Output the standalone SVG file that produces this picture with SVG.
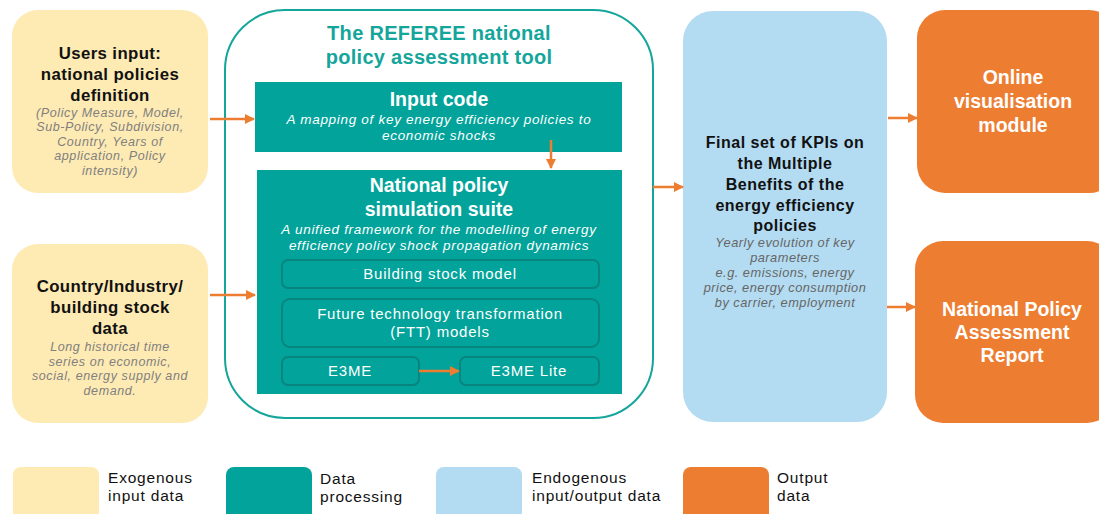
<svg xmlns="http://www.w3.org/2000/svg" width="1099" height="514" viewBox="0 0 1099 514">
<style>
text{font-family:"Liberation Sans",Arial,sans-serif;text-anchor:middle}
.yel{fill:#FEEAB3}
.teal{fill:#02A39A}
.blue{fill:#B3DBF1}
.org{fill:#ED7D31}
.hb{font-weight:700;fill:#111;font-size:16.8px;letter-spacing:0.4px}
.gi{font-style:italic;fill:#808080;font-size:12.5px;letter-spacing:0.6px}
.wb{font-weight:700;fill:#fff;font-size:19.5px}
.wi{font-style:italic;fill:#fff;font-size:13.5px;letter-spacing:0.7px}
.sub{fill:none;stroke:#08857E;stroke-width:2}
.wm{fill:#fff;font-size:15px;letter-spacing:0.8px}
.ob{font-weight:700;fill:#fff;font-size:19.5px}
.kb{font-weight:700;fill:#111;font-size:16px;letter-spacing:0.5px}
.bi{font-style:italic;fill:#666;font-size:12.8px;letter-spacing:0.5px}
.lg{fill:#111;font-size:15.5px;letter-spacing:0.8px;text-anchor:start}
.conn{stroke:#ED7D31;stroke-width:2.5;fill:none;marker-end:url(#ah)}
</style>
<defs>
<marker id="ah" viewBox="0 0 10 10" refX="9" refY="5" markerWidth="4" markerHeight="4" orient="auto" markerUnits="strokeWidth">
<path d="M0,0 L10,5 L0,10 z" fill="#ED7D31"/>
</marker>
</defs>
<rect width="1099" height="514" fill="#fff"/>

<g id="users-input">
<rect class="yel" x="12" y="10" width="196" height="183" rx="26"/>
<text class="hb" x="110" y="59">Users input:</text>
<text class="hb" x="110" y="80">national policies</text>
<text class="hb" x="110" y="101">definition</text>
<text class="gi" x="110" y="116.5">(Policy Measure, Model,</text>
<text class="gi" x="110" y="131">Sub-Policy, Subdivision,</text>
<text class="gi" x="110" y="145.5">Country, Years of</text>
<text class="gi" x="110" y="160">application, Policy</text>
<text class="gi" x="110" y="174.5">intensity)</text>
</g>

<g id="country-data">
<rect class="yel" x="12" y="244" width="196" height="179" rx="26"/>
<text class="hb" x="110" y="292">Country/Industry/</text>
<text class="hb" x="110" y="313">building stock</text>
<text class="hb" x="110" y="334">data</text>
<text class="gi" x="110" y="351">Long historical time</text>
<text class="gi" x="110" y="365.5">series on economic,</text>
<text class="gi" x="110" y="380">social, energy supply and</text>
<text class="gi" x="110" y="394.5">demand.</text>
</g>

<g id="tool">
<rect x="225" y="10" width="428" height="408" rx="60" fill="none" stroke="#14A59B" stroke-width="2"/>
<text x="439" y="40" font-weight="700" font-size="20" letter-spacing="0.3" fill="#14A59B">The REFEREE national</text>
<text x="439" y="64" font-weight="700" font-size="20" letter-spacing="0.3" fill="#14A59B">policy assessment tool</text>
</g>

<g id="input-code">
<rect class="teal" x="255" y="82" width="367" height="70"/>
<text class="wb" x="439" y="106">Input code</text>
<text class="wi" x="439" y="124">A mapping of key energy efficiency policies to</text>
<text class="wi" x="439" y="140">economic shocks</text>
</g>

<g id="simulation-suite">
<rect class="teal" x="257" y="170" width="365" height="224"/>
<text class="wb" x="439" y="192">National policy</text>
<text class="wb" x="439" y="216">simulation suite</text>
<text class="wi" x="439" y="234">A unified framework for the modelling of energy</text>
<text class="wi" x="439" y="250">efficiency policy shock propagation dynamics</text>
</g>

<g id="building-stock">
<rect class="sub" x="282" y="260" width="317" height="28" rx="6"/>
<text class="wm" x="440" y="279">Building stock model</text>
</g>

<g id="ftt">
<rect class="sub" x="282" y="299" width="317" height="48" rx="8"/>
<text class="wm" x="440" y="319">Future technology transformation</text>
<text class="wm" x="440" y="337">(FTT) models</text>
</g>

<g id="e3me">
<rect class="sub" x="282" y="357" width="137" height="28" rx="6"/>
<text class="wm" x="350" y="376">E3ME</text>
</g>

<g id="e3me-lite">
<rect class="sub" x="460" y="357" width="139" height="28" rx="6"/>
<text class="wm" x="529" y="376">E3ME Lite</text>
</g>

<g id="kpis">
<rect class="blue" x="683" y="11" width="204" height="411" rx="30"/>
<text class="kb" x="785" y="148">Final set of KPIs on</text>
<text class="kb" x="785" y="169">the Multiple</text>
<text class="kb" x="785" y="190">Benefits of the</text>
<text class="kb" x="785" y="211">energy efficiency</text>
<text class="kb" x="785" y="231">policies</text>
<text class="bi" x="785" y="247">Yearly evolution of key</text>
<text class="bi" x="785" y="262">parameters</text>
<text class="bi" x="785" y="277">e.g. emissions, energy</text>
<text class="bi" x="785" y="292">price, energy consumption</text>
<text class="bi" x="785" y="307">by carrier, employment</text>
</g>

<g id="online-module">
<rect class="org" x="917" y="10" width="200" height="183" rx="28"/>
<text class="ob" x="1013" y="84">Online</text>
<text class="ob" x="1013" y="108">visualisation</text>
<text class="ob" x="1013" y="132">module</text>
</g>

<g id="report">
<rect class="org" x="915" y="241" width="200" height="182" rx="28"/>
<text class="ob" x="1012" y="316">National Policy</text>
<text class="ob" x="1012" y="339">Assessment</text>
<text class="ob" x="1012" y="362">Report</text>
</g>

<g id="connectors">
<line class="conn" x1="210" y1="119" x2="254" y2="119"/>
<line class="conn" x1="210" y1="295" x2="255" y2="295"/>
<line class="conn" x1="551" y1="140" x2="551" y2="168"/>
<line class="conn" x1="419" y1="371" x2="459" y2="371"/>
<line class="conn" x1="653" y1="187" x2="683" y2="187"/>
<line class="conn" x1="888" y1="118" x2="917" y2="118"/>
<line class="conn" x1="887" y1="307" x2="915" y2="307"/>
</g>

<g id="legend">
<rect class="yel" x="13" y="467" width="86" height="56" rx="8"/>
<text class="lg" x="108" y="483">Exogenous</text>
<text class="lg" x="108" y="501">input data</text>
<rect class="teal" x="226" y="467" width="86" height="56" rx="8"/>
<text class="lg" x="320" y="484">Data</text>
<text class="lg" x="320" y="502">processing</text>
<rect class="blue" x="436" y="467" width="86" height="56" rx="8"/>
<text class="lg" x="532" y="483">Endogenous</text>
<text class="lg" x="532" y="501">input/output data</text>
<rect class="org" x="683" y="467" width="86" height="56" rx="8"/>
<text class="lg" x="777" y="483">Output</text>
<text class="lg" x="777" y="501">data</text>
</g>
</svg>
